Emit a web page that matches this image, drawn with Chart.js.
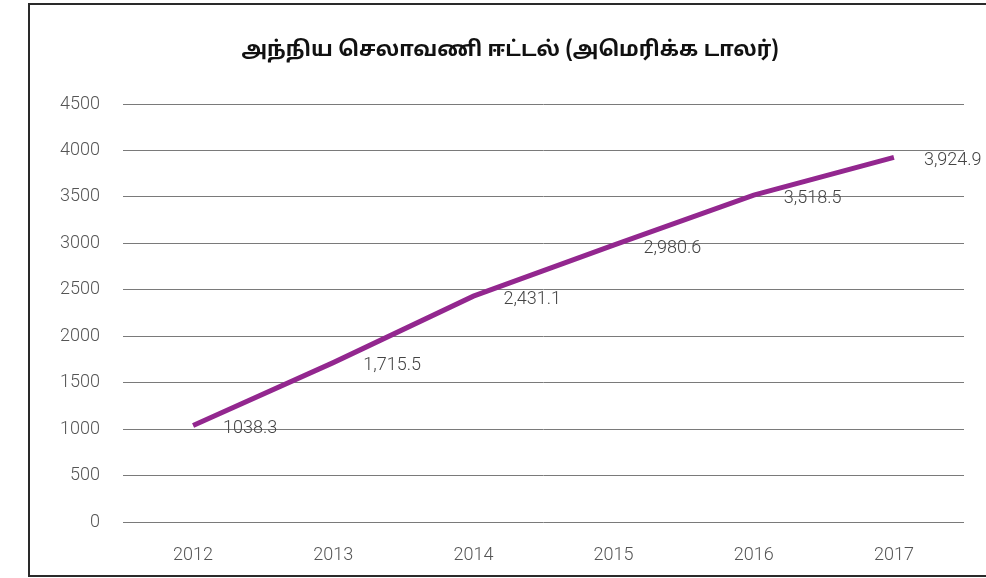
<!DOCTYPE html>
<html>
<head>
<meta charset="utf-8">
<script src="https://cdn.jsdelivr.net/npm/chart.js@4/dist/chart.umd.min.js"></script>
<style>
  html, body { margin: 0; padding: 0; background: #fff; width: 986px; height: 578px; overflow: hidden; }
  #frame { position: absolute; left: 28px; top: 3px; width: 964px; height: 574px; border: 2px solid #2a2a2a; box-sizing: border-box; background: #fff; }
  #wrap { position: absolute; left: 0; top: 0; width: 960px; height: 570px; }
</style>
</head>
<body>
<div id="frame"><div id="wrap"><canvas id="c" width="960" height="570"></canvas></div></div>
<script>
const titleText = "அந்நிய செலாவணி ஈட்டல் (அமெரிக்க டாலர்)";
const years = ["2012", "2013", "2014", "2015", "2016", "2017"];
const earnings = [1038.3, 1715.5, 2431.1, 2980.6, 3518.5, 3924.9];
const valueLabels = ["1038.3", "1,715.5", "2,431.1", "2,980.6", "3,518.5", "3,924.9"];
const yMin = 0, yMax = 4500, yStep = 500;

const tickFont = { family: "Roboto, 'Liberation Sans', sans-serif", size: 18, weight: 300 };

const labelPlugin = {
  id: 'pointLabels',
  afterDatasetsDraw(chart) {
    const ctx = chart.ctx;
    const meta = chart.getDatasetMeta(0);
    ctx.save();
    ctx.font = "300 18px Roboto, 'Liberation Sans', sans-serif";
    ctx.fillStyle = '#444';
    ctx.textAlign = 'left';
    ctx.textBaseline = 'middle';
    meta.data.forEach((pt, i) => {
      ctx.fillText(valueLabels[i], pt.x + 30, pt.y + 3);
    });
    ctx.restore();
  }
};

const titlePlugin = {
  id: 'centeredTitle',
  afterDraw(chart) {
    const ctx = chart.ctx;
    ctx.save();
    ctx.font = "bold 21px 'Noto Sans Tamil', 'Latha', 'Noto Sans', sans-serif";
    ctx.fillStyle = '#111';
    ctx.textAlign = 'center';
    ctx.textBaseline = 'middle';
    ctx.fillText(titleText, chart.width / 2, 47);
    ctx.restore();
  }
};

new Chart(document.getElementById('c'), {
  type: 'line',
  data: {
    labels: years,
    datasets: [{
      data: earnings,
      borderColor: '#93278F',
      borderWidth: 5,
      borderCapStyle: 'butt',
      pointRadius: 0,
      pointHoverRadius: 0,
      tension: 0,
      fill: false
    }]
  },
  options: {
    responsive: false,
    animation: false,
    events: [],
    layout: { padding: { left: 0, right: 26, top: 99, bottom: 0 } },
    plugins: {
      legend: { display: false },
      tooltip: { enabled: false },
      title: { display: false }
    },
    scales: {
      x: {
        offset: true,
        grid: { display: false, drawTicks: false },
        border: { display: false },
        ticks: { color: '#555', font: tickFont, padding: 23, maxRotation: 0 },
        afterFit(s) { s.height = 53; }
      },
      y: {
        min: yMin, max: yMax,
        grid: { color: '#7a7a7a', lineWidth: 1, drawTicks: false },
        border: { display: false },
        ticks: { stepSize: yStep, color: '#555', font: tickFont, padding: 23, callback: (v) => String(v) },
        afterFit(s) { s.width = 93; }
      }
    }
  },
  plugins: [labelPlugin, titlePlugin]
});
</script>
</body>
</html>
